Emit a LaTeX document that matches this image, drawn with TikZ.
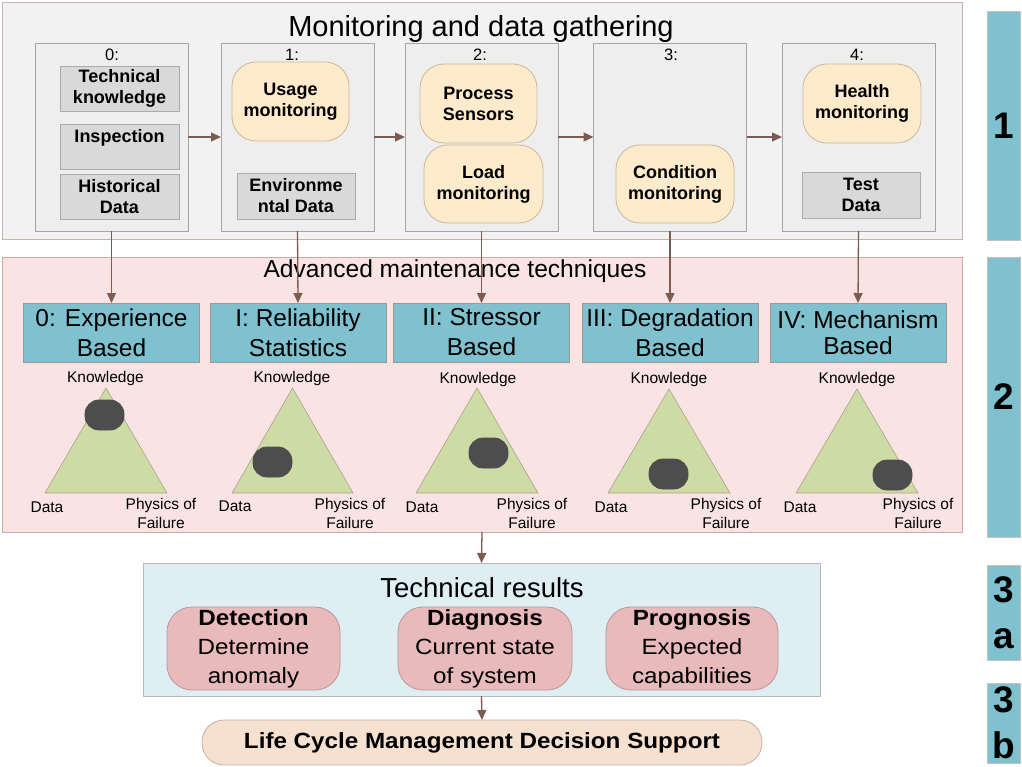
\documentclass[tikz,border=0pt]{standalone}
\usepackage{fontspec}
\setmainfont{Liberation Sans}
\newfontfamily\widefont[FakeStretch=1.1]{Liberation Sans}
\usetikzlibrary{arrows.meta}
\definecolor{sonebg}{HTML}{F2F2F2}
\definecolor{sonebd}{HTML}{C4B4AE}
\definecolor{inbg}{HTML}{EEEEEE}
\definecolor{inbd}{HTML}{A8A4A2}
\definecolor{graybox}{HTML}{D9D9D9}
\definecolor{graybd}{HTML}{ABABAB}
\definecolor{yel}{HTML}{FDEBCB}
\definecolor{yelbd}{HTML}{C8B89C}
\definecolor{arr}{HTML}{7B5B52}
\definecolor{stwobg}{HTML}{FAE3E3}
\definecolor{stwobd}{HTML}{C9A9A9}
\definecolor{blu}{HTML}{7FC1CF}
\definecolor{blubd}{HTML}{A09890}
\definecolor{grn}{HTML}{CCDCA4}
\definecolor{grnbd}{HTML}{B0A08C}
\definecolor{blob}{HTML}{4D4D4D}
\definecolor{trbg}{HTML}{DEEEF2}
\definecolor{trbd}{HTML}{B8B8B8}
\definecolor{pnk}{HTML}{E9BABC}
\definecolor{pnkbd}{HTML}{B89898}
\definecolor{lcm}{HTML}{F6E0D0}
\definecolor{lcmbd}{HTML}{C8AE9E}
\tikzset{
  base/.style={inner sep=0pt, outer sep=0pt, line width=0.8pt, align=center},
  secone/.style={base, draw=sonebd, fill=sonebg},
  inbox/.style={base, draw=inbd, fill=inbg, minimum width=153pt, minimum height=188pt},
  graybx/.style={base, draw=graybd, fill=graybox, font=\fontsize{18}{21}\selectfont\bfseries},
  yelbx/.style={base, draw=yelbd, fill=yel, rounded corners=24pt, font=\fontsize{18}{21}\selectfont\bfseries},
  numlbl/.style={base, font=\fontsize{16.5}{18}\selectfont},
  sectwo/.style={base, draw=stwobd, fill=stwobg},
  blubx/.style={base, draw=blubd, fill=blu, minimum width=176pt, minimum height=59pt, font=\fontsize{24.5}{30}\selectfont},
  tri/.style={draw=grnbd, fill=grn, line width=0.6pt},
  small/.style={base, font=\fontsize{15.5}{19}\selectfont},
  blobbx/.style={base, fill=blob, draw=blob, minimum width=39pt, minimum height=30pt, rounded corners=14pt},
  trbox/.style={base, draw=trbd, fill=trbg},
  pnkbx/.style={base, draw=pnkbd, fill=pnk, rounded corners=25pt, minimum height=83pt, font=\widefont\fontsize{22}{29}\selectfont},
  lcmbx/.style={base, draw=lcmbd, fill=lcm, rounded corners=22pt, font=\widefont\fontsize{22}{26}\selectfont\bfseries},
  sidebx/.style={base, draw=blubd!60, fill=blu, minimum width=33pt, font=\fontsize{37}{46}\selectfont\bfseries},
  conn/.style={draw=arr, line width=1.3pt, -{Triangle[length=10pt,width=9pt]}}
}
\begin{document}
\begin{tikzpicture}[x=1pt,y=-1pt]
\useasboundingbox (0,0) rectangle (1022,767);
% ---------- section 1
\node[secone, minimum width=960pt, minimum height=237pt] (S1) at (482,120.5) {};
\node[base, anchor=base, font=\fontsize{29}{32}\selectfont] (S1t) at (481,37) {Monitoring and data gathering};
\node[inbox] (B0) at (111.5,137) {};
\node[inbox] (B1) at (297.5,137) {};
\node[inbox] (B2) at (481.5,137) {};
\node[inbox] (B3) at (670,137) {};
\node[inbox] (B4) at (858.5,137) {};
\node[numlbl] (L0) at (112,55) {0:};
\node[numlbl] (L1) at (292,55) {1:};
\node[numlbl] (L2) at (480,55) {2:};
\node[numlbl] (L3) at (671,55) {3:};
\node[numlbl] (L4) at (857,55) {4:};
\node[graybx, minimum width=119pt, minimum height=45pt] (tk) at (119.5,88.5) {Technical\\knowledge};
\node[graybx, minimum width=119pt, minimum height=45pt] (insp) at (119.5,146.5) {Inspection\\ \mbox{}};
\node[graybx, minimum width=119pt, minimum height=45pt] (hd) at (119.5,196.5) {Historical\\Data};
\node[yelbx, minimum width=117pt, minimum height=79pt] (um) at (290.5,101.5) {Usage\\monitoring};
\node[graybx, minimum width=118pt, minimum height=46pt] (ed) at (296,196) {Environme\\ntal Data};
\node[yelbx, minimum width=117pt, minimum height=79pt] (ps) at (478.5,103.5) {Process\\Sensors};
\node[yelbx, minimum width=119pt, minimum height=78pt] (lm) at (483.5,184) {Load\\monitoring};
\node[yelbx, minimum width=118pt, minimum height=78pt] (cm) at (675,184) {Condition\\monitoring};
\node[yelbx, minimum width=118pt, minimum height=79pt] (hm) at (862,103.5) {Health\\monitoring};
\node[graybx, minimum width=118pt, minimum height=46pt] (td) at (861,195) {Test\\Data};
\draw[conn] (B0.east) -- (B1.west);
\draw[conn] (B1.east) -- (B2.west);
\draw[conn] (B2.east) -- (B3.west);
\draw[conn] (B3.east) -- (B4.west);
% ---------- section 2
\node[sectwo, minimum width=960pt, minimum height=275pt] (S2) at (482,394.5) {};
\node[base, anchor=base, font=\fontsize{24.6}{28}\selectfont] (S2t) at (455,277) {Advanced maintenance techniques};
\node[blubx] (T0) at (111.5,332.5) {0: Experience\\Based};
\node[blubx] (T1) at (298,332.5) {I: Reliability\\Statistics};
\node[blubx] (T2) at (481.5,332.5) {II: Stressor\\Based};
\node[blubx] (T3) at (670,332.5) {III: Degradation\\Based};
\node[blubx] (T4) at (858,332.5) {\raisebox{-4pt}{IV: Mechanism}\\Based};
\foreach \i in {0,...,4} {\draw[conn] (B\i.south) -- (T\i.north);}
% triangles
\draw[tri] (106,388) -- (167,493) -- (45,493) -- cycle;
\draw[tri] (292.5,388) -- (353,493) -- (232,493) -- cycle;
\draw[tri] (477,388) -- (538,493) -- (416,493) -- cycle;
\draw[tri] (669,389) -- (730,493) -- (608,493) -- cycle;
\draw[tri] (857,389) -- (918,493) -- (796,493) -- cycle;
\node[blobbx] (bl0) at (104.5,415) {};
\node[blobbx] (bl1) at (272.5,462) {};
\node[blobbx] (bl2) at (488.5,453) {};
\node[blobbx] (bl3) at (668.5,474) {};
\node[blobbx] (bl4) at (892.5,475) {};
\node[small] (k0) at (105.5,378) {Knowledge};
\node[small] (k1) at (292,378) {Knowledge};
\node[small] (k2) at (478,379) {Knowledge};
\node[small] (k3) at (669,379) {Knowledge};
\node[small] (k4) at (857,379) {Knowledge};
\node[small] (d0) at (47,507) {Data};
\node[small] (d1) at (235,506) {Data};
\node[small] (d2) at (422,507) {Data};
\node[small] (d3) at (611,507) {Data};
\node[small] (d4) at (800,507) {Data};
\node[small] (p0) at (161,513.5) {Physics of\\Failure};
\node[small] (p1) at (350,513) {Physics of\\Failure};
\node[small] (p2) at (532,513.5) {Physics of\\Failure};
\node[small] (p3) at (726,513.5) {Physics of\\Failure};
\node[small] (p4) at (918,513.5) {Physics of\\Failure};
% ---------- section 3a
\node[trbox, minimum width=677pt, minimum height=133pt] (S3) at (481.5,629.5) {};
\node[base, anchor=base, font=\fontsize{27.5}{30}\selectfont] (S3t) at (482,597) {Technical results};
\node[pnkbx, minimum width=173pt] (det) at (253.5,648.5) {\textbf{Detection}\\Determine\\anomaly};
\node[pnkbx, minimum width=174pt] (dia) at (485,648.5) {\textbf{Diagnosis}\\Current state\\of system};
\node[pnkbx, minimum width=172pt] (pro) at (692,648.5) {\textbf{Prognosis}\\Expected\\capabilities};
\draw[conn] (S2.south) -- (S3.north);
% ---------- section 3b
\node[lcmbx, minimum width=560pt, minimum height=45pt] (lc) at (482,742.5) {Life Cycle Management Decision Support};
\draw[conn] (S3.south) -- (lc.north);
% ---------- side labels
\node[sidebx, minimum height=229pt] (R1) at (1003.5,125.5) {1};
\node[sidebx, minimum height=280pt] (R2) at (1003.5,397) {2};
\node[sidebx, minimum height=95pt] (R3a) at (1003.5,613) {3\\a};
\node[sidebx, minimum height=80pt] (R3b) at (1003.5,723) {3\\b};
\end{tikzpicture}
\end{document}
